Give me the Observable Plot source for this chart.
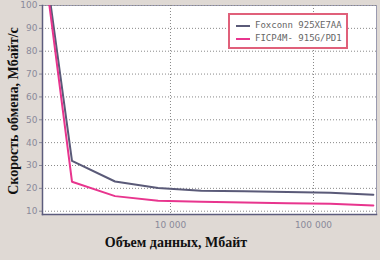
<!DOCTYPE html>
<html><head><meta charset="utf-8">
<script src="https://cdn.jsdelivr.net/npm/d3@7"></script>
<script src="https://cdn.jsdelivr.net/npm/@observablehq/plot@0.6"></script>
<style>
body{margin:0;background:#dfd9d4;}
#wrap{position:relative;width:380px;height:260px;background:#dfd9d4;overflow:hidden;}
#chart{position:absolute;left:0;top:0;}
.ytitle{position:absolute;left:14px;top:111px;transform:translate(-50%,-50%) rotate(-90deg);white-space:nowrap;font:bold 14px "Liberation Serif";color:#111;}
.xtitle{position:absolute;left:176px;top:243px;transform:translate(-50%,-50%);white-space:nowrap;font:bold 14px "Liberation Serif";color:#111;}
.legend{position:absolute;left:228px;top:13px;width:116px;height:32px;border:2px solid #e0607a;background:#fff;font:9px "DejaVu Sans Mono";color:#666;}
.row{position:absolute;left:6px;height:12px;line-height:12px;white-space:nowrap;}
.sw{display:inline-block;width:14px;height:2px;vertical-align:middle;margin-right:5px;}
</style></head>
<body><div id="wrap"><div id="chart"></div>
<div class="ytitle">Скорость обмена, Мбайт/с</div>
<div class="xtitle">Объем данных, Мбайт</div>
<div class="legend" id="legend"></div>
</div>
<script>
const sizes = [1024, 2048, 4096, 8192, 16384, 32768, 65536, 131072, 262144];
const foxconn = [170, 32, 23, 20.2, 19.0, 18.7, 18.4, 18.1, 17.2];
const ficp = [170, 22.9, 16.6, 14.6, 14.1, 13.8, 13.5, 13.3, 12.5];
const seriesNames = ["Foxconn 925XE7AA", "FICP4M- 915G/PD1"];
const seriesColors = ["#5a5a78", "#e8358e"];
const yTicks = [10, 20, 30, 40, 50, 60, 70, 80, 90, 100];
const xTicks = [10000, 100000];
const xTickLabels = ["10 000", "100 000"];

const data = [];
[foxconn, ficp].forEach((vals, s) => sizes.forEach((x, i) => data.push({x, y: vals[i], s: seriesNames[s]})));

const chart = Plot.plot({
  width: 380, height: 260,
  marginLeft: 42, marginRight: 4, marginTop: 5, marginBottom: 46,
  style: {background: "transparent", fontFamily: "DejaVu Sans", fontSize: "9px", color: "#8a8a9a"},
  x: {type: "log", domain: [1274, 275800], ticks: xTicks, tickFormat: d => xTickLabels[xTicks.indexOf(d)], tickSize: 0, tickPadding: 7, label: null},
  y: {domain: [8.56, 100], ticks: yTicks, tickSize: 3, tickPadding: 2, label: null},
  color: {domain: seriesNames, range: seriesColors},
  marks: [
    Plot.frame({fill: "white", stroke: "#9a9ab0"}),
    Plot.gridY(yTicks, {stroke: "#888", strokeOpacity: 1, strokeDasharray: "1,2"}),
    Plot.gridX(xTicks, {stroke: "#888", strokeOpacity: 1, strokeDasharray: "1,2"}),
    Plot.line(data, {x: "x", y: "y", z: "s", stroke: "s", strokeWidth: 2, clip: true}),
    Plot.frame({anchor: "left", stroke: "#5c5c7c", strokeWidth: 1.5}),
    Plot.frame({anchor: "bottom", stroke: "#5c5c7c", strokeWidth: 1.5})
  ]
});
document.getElementById("chart").appendChild(chart);

const leg = document.getElementById("legend");
seriesNames.forEach((n, i) => {
  const r = document.createElement("div");
  r.className = "row";
  r.style.top = (4 + i * 13) + "px";
  r.innerHTML = `<span class="sw" style="background:${seriesColors[i]}"></span>${n}`;
  leg.appendChild(r);
});
</script></body></html>
